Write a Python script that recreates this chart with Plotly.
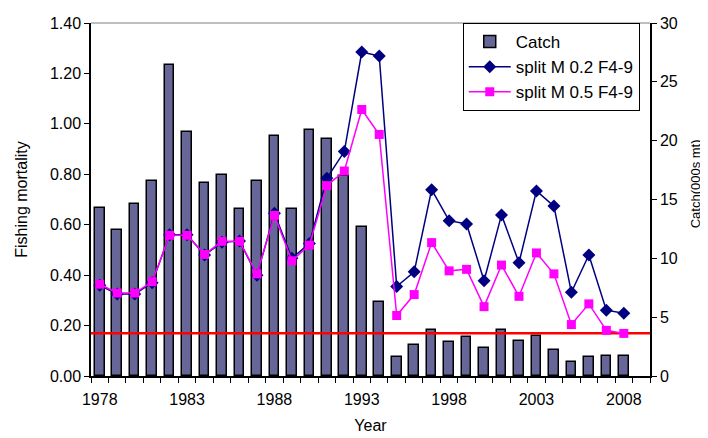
import plotly.graph_objects as go

years = list(range(1978, 2009))
catch = [14.3, 12.4, 14.6, 16.6, 26.4, 20.7, 16.4, 17.1, 14.2, 16.6, 20.4, 14.2, 20.9,
         20.1, 17.0, 12.7, 6.3, 1.6, 2.6, 3.9, 2.9, 3.3, 2.4, 3.9, 3.0, 3.4, 2.2, 1.2,
         1.6, 1.7, 1.7]
f_m02 = [0.360, 0.325, 0.325, 0.370, 0.560, 0.560, 0.480, 0.530, 0.535, 0.400, 0.645,
         0.467, 0.525, 0.784, 0.890, 1.285, 1.269, 0.355, 0.413, 0.739, 0.616, 0.603,
         0.378, 0.639, 0.449, 0.734, 0.674, 0.332, 0.480, 0.261, 0.249]
f_m05 = [0.364, 0.329, 0.329, 0.374, 0.558, 0.558, 0.482, 0.534, 0.534, 0.405, 0.637,
         0.457, 0.519, 0.755, 0.813, 1.057, 0.958, 0.240, 0.323, 0.529, 0.417, 0.423,
         0.275, 0.440, 0.316, 0.488, 0.405, 0.204, 0.286, 0.181, 0.169]
ref_f = 0.17
x_tick_labels = [1978, 1983, 1988, 1993, 1998, 2003, 2008]
x_range = [1977.5, 2009.5]

FONT = "Liberation Sans, Arial, sans-serif"

fig = go.Figure()
fig.add_trace(go.Bar(
    x=years, y=catch, name="Catch", yaxis="y", width=0.55,
    marker=dict(color="#666699", line=dict(color="black", width=1.5)),
    legendgroup="a"))
fig.add_trace(go.Scatter(
    x=x_range, y=[ref_f, ref_f], mode="lines", yaxis="y2",
    line=dict(color="#FF0000", width=2.5), showlegend=False, hoverinfo="skip"))
fig.add_trace(go.Scatter(
    x=years, y=f_m02, name="split M 0.2 F4-9", yaxis="y2", mode="lines+markers",
    line=dict(color="#000080", width=1.5),
    marker=dict(symbol="diamond", size=10, color="#000080"), legendgroup="b"))
fig.add_trace(go.Scatter(
    x=years, y=f_m05, name="split M 0.5 F4-9", yaxis="y2", mode="lines+markers",
    line=dict(color="#FF00FF", width=1.5),
    marker=dict(symbol="square", size=9, color="#FF00FF"), legendgroup="c"))

fig.update_layout(
    width=708, height=438,
    margin=dict(l=83, r=66, t=7, b=70, pad=0),
    paper_bgcolor="white", plot_bgcolor="white",
    font=dict(family=FONT, size=16, color="black"),
    bargap=0,
    xaxis=dict(
        range=x_range, tickmode="array", tickvals=x_tick_labels, ticks="",
        ticklabelstandoff=8,
        showgrid=False, zeroline=False, showline=True, linecolor="black", linewidth=1.5,
        minor=dict(tick0=1977.5, dtick=1, ticks="outside", ticklen=5,
                   tickcolor="black", showgrid=False),
        title=dict(text="Year", standoff=13, font=dict(size=16)),
        tickfont=dict(size=16),
    ),
    yaxis=dict(
        side="right", range=[0, 30], dtick=5, tickformat="d",
        ticks="outside", ticklen=5, tickcolor="black", ticklabeloverflow="allow",
        showgrid=False, zeroline=False, showline=True, linecolor="black", linewidth=1.5,
        tickfont=dict(size=16),
    ),
    yaxis2=dict(
        overlaying="y", side="left", range=[0, 1.4], dtick=0.2, tickformat=".2f",
        ticks="outside", ticklen=5, tickcolor="black", ticklabeloverflow="allow",
        showgrid=False, zeroline=False, showline=True, linecolor="black", linewidth=1.5,
        title=dict(text="Fishing mortality", standoff=18, font=dict(size=16)),
        tickfont=dict(size=16),
    ),
    legend=dict(
        x=0.665, y=1.0, xanchor="left", yanchor="top",
        bgcolor="white", bordercolor="black", borderwidth=1,
        font=dict(size=17), tracegroupgap=11, traceorder="normal", itemwidth=42,
    ),
    showlegend=True,
    shapes=[dict(type="line", xref="paper", yref="paper", x0=0, x1=1, y0=1, y1=1,
                 line=dict(color="#808080", width=1))],
    annotations=[dict(text="Catch(000s mt)", xref="paper", yref="paper",
                      x=1.0, y=0.543, xshift=45, textangle=-90, showarrow=False,
                      xanchor="center", yanchor="middle", font=dict(size=13))],
)

fig.write_html("out.html", config={"displayModeBar": False})
